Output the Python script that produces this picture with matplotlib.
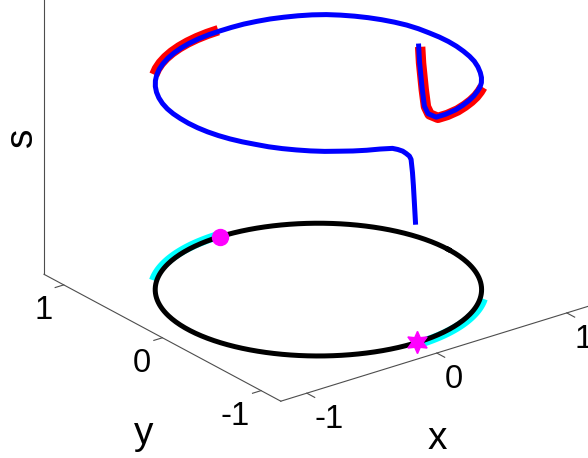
import numpy as np
import matplotlib
matplotlib.use('Agg')
import matplotlib.pyplot as plt
from mpl_toolkits.mplot3d import proj3d

plt.rcParams['font.family'] = ['Liberation Sans', 'DejaVu Sans']

# ----------------------
# Data
# ----------------------

x_lim = (-1.2, 1.2)
y_lim = (-1.2, 1.2)
s_lim = (0.0, 2.6)
tick_vals = [-1, 0, 1]
tick_text = ['-1', '0', '1']

# lifted curve: angle on the unit circle (deg) and height s
path_deg = [-90.7, -91.2, -91.6, -92.0, -92.6, -93.3, -94.7, -96.1, -98.1, -100.2,
            -105, -110, -115, -120, -125, -130, -135, -140, -145, -150,
            -155, -160, -165, -170, -175, -180, -185, -190, -195, -200,
            -205, -210, -215, -220, -225, -230, -235, -240, -245, -250,
            -255, -260, -265, -270, -275, -280, -285, -290, -295, -300,
            -305, -310, -315, -320, -325, -330, -335, -340, -345, -350,
            -355, -360, -365, -370, -375, -380, -385, -390, -395, -400,
            -405, -410, -415, -420, -425, -430, -436, -441, -445, -446.7,
            -447.7, -448.9, -449.3]
path_s = [0.81, 0.95, 1.06, 1.15, 1.24, 1.265, 1.289, 1.31, 1.329, 1.344,
          1.355, 1.36, 1.365, 1.37, 1.372, 1.375, 1.378, 1.38, 1.382, 1.385,
          1.385, 1.385, 1.385, 1.385, 1.385, 1.385, 1.385, 1.383, 1.381, 1.38,
          1.38, 1.38, 1.38, 1.38, 1.38, 1.38, 1.38, 1.38, 1.38, 1.38,
          1.38, 1.38, 1.38, 1.38, 1.382, 1.385, 1.387, 1.39, 1.392, 1.395,
          1.398, 1.40, 1.40, 1.40, 1.40, 1.40, 1.40, 1.40, 1.398, 1.395,
          1.395, 1.395, 1.395, 1.395, 1.397, 1.40, 1.40, 1.40, 1.405, 1.41,
          1.42, 1.43, 1.435, 1.44, 1.444, 1.447, 1.455, 1.465, 1.51, 1.57,
          1.69, 1.875, 1.985]

# highlighted arcs on the circle (deg)
arcs_deg = [(90, 135), (-90, -45)]
dot_deg = 90
star_deg = -90

# ----------------------
# Figure
# ----------------------

fig = plt.figure(figsize=(5.88, 4.58), dpi=100)
ax = fig.add_axes([0, 0, 1, 1], projection='3d', proj_type='ortho')
ax.computed_zorder = False
ax.set_axis_off()
ax.set_xlim(*x_lim)
ax.set_ylim(*y_lim)
ax.set_zlim(*s_lim)
ax.set_box_aspect((x_lim[1] - x_lim[0], y_lim[1] - y_lim[0], s_lim[1] - s_lim[0]))
ax.view_init(elev=24, azim=-127.2)

# base circle and cyan arcs
t = np.radians(np.linspace(0, 360, 361))
ax.plot(np.cos(t), np.sin(t), np.zeros_like(t), color='k', lw=3.6, zorder=3)
for a0, a1 in arcs_deg:
    t = np.radians(np.linspace(a0, a1, 60))
    ax.plot(1.02 * np.cos(t), 1.02 * np.sin(t), np.zeros_like(t),
            color='cyan', lw=6.5, zorder=2, solid_capstyle='butt')

# lifted curve, red where it sits above the cyan arcs
pd = np.array(path_deg)
pt = np.radians(pd)
ps = np.array(path_s)
wrapped = (pd + 180) % 360 - 180
in_arc = np.zeros(len(pd), dtype=bool)
for a0, a1 in arcs_deg:
    in_arc |= (wrapped >= min(a0, a1)) & (wrapped <= max(a0, a1))
rx = np.where(in_arc, 1.015 * np.cos(pt), np.nan)
ry = np.where(in_arc, 1.015 * np.sin(pt), np.nan)
ax.plot(rx, ry, ps, color='red', lw=7.5, zorder=4, solid_capstyle='butt')
ax.plot(np.cos(pt), np.sin(pt), ps, color='blue', lw=3.6, zorder=5,
        solid_joinstyle='round')

# markers
ax.plot([np.cos(np.radians(dot_deg))], [np.sin(np.radians(dot_deg))], [0],
        ls='none', marker='o', ms=11.5, mfc='magenta', mec='magenta', zorder=6)
ax.plot([np.cos(np.radians(star_deg))], [np.sin(np.radians(star_deg))], [0],
        ls='none', marker=(6, 1, 0), ms=16, mfc='magenta', mec='magenta', zorder=6)

# axis lines and ticks
axc = '0.3'
x0, x1 = x_lim
y0, y1 = y_lim
ax.plot([x0, x1], [y0, y0], [0, 0], color=axc, lw=0.8, zorder=1)
ax.plot([x0, x0], [y0, y1], [0, 0], color=axc, lw=0.8, zorder=1)
ax.plot([x0, x0], [y1, y1], [0, s_lim[1]], color=axc, lw=0.8, zorder=1)
for v in tick_vals:
    ax.plot([v, v], [y0, y0 - 0.08], [0, 0], color=axc, lw=0.8, zorder=1)
    ax.plot([x0, x0 - 0.066], [v, v], [0, 0], color=axc, lw=0.8, zorder=1)

# ----------------------
# Place the box where the reference has it
# ----------------------

W, H = fig.get_size_inches() * fig.dpi
fig.canvas.draw()


def to_px(p):
    xs, ys, _ = proj3d.proj_transform(p[0], p[1], p[2], ax.get_proj())
    return np.array(ax.transData.transform((xs, ys)))


b_now = to_px((x0, y1, 0))
c_now = to_px((x1, y0, 0))
b_ref = np.array([44.0, H - 274.7])
c_ref = np.array([592.8, H - 304.5])
f = np.linalg.norm(c_ref - b_ref) / np.linalg.norm(c_now - b_now)
pos = ax.get_position()
px0, py0, pw, ph = pos.x0 * W, pos.y0 * H, pos.width * W, pos.height * H
mid_now = (b_now + c_now) / 2
mid_ref = (b_ref + c_ref) / 2
u = (mid_now - np.array([px0, py0])) / np.array([pw, ph])
nw, nh = pw * f, ph * f
ax.set_position([(mid_ref[0] - u[0] * nw) / W, (mid_ref[1] - u[1] * nh) / H, nw / W, nh / H])
fig.canvas.draw()

# tick labels, anchored next to the projected tick positions
for v, lab in zip(tick_vals, tick_text):
    px = to_px((v, y0 - 0.081, -0.15))
    fig.text(px[0] / W, px[1] / H, lab, ha='left', va='center', fontsize=23.5)
    py = to_px((x0 - 0.085, v, -0.148))
    fig.text(py[0] / W, py[1] / H, lab, ha='right', va='center', fontsize=23.5)

# axis labels
fig.text(437.5 / W, 1 - 457 / H, 'x', ha='center', va='bottom', fontsize=28)
fig.text(144 / W, 1 - 444 / H, 'y', ha='center', va='baseline', fontsize=28)
fig.text(31.5 / W, 1 - 137.5 / H, 's', ha='center', va='baseline', fontsize=28,
         rotation=90, rotation_mode='anchor')

fig.savefig('out.png', dpi=100)
